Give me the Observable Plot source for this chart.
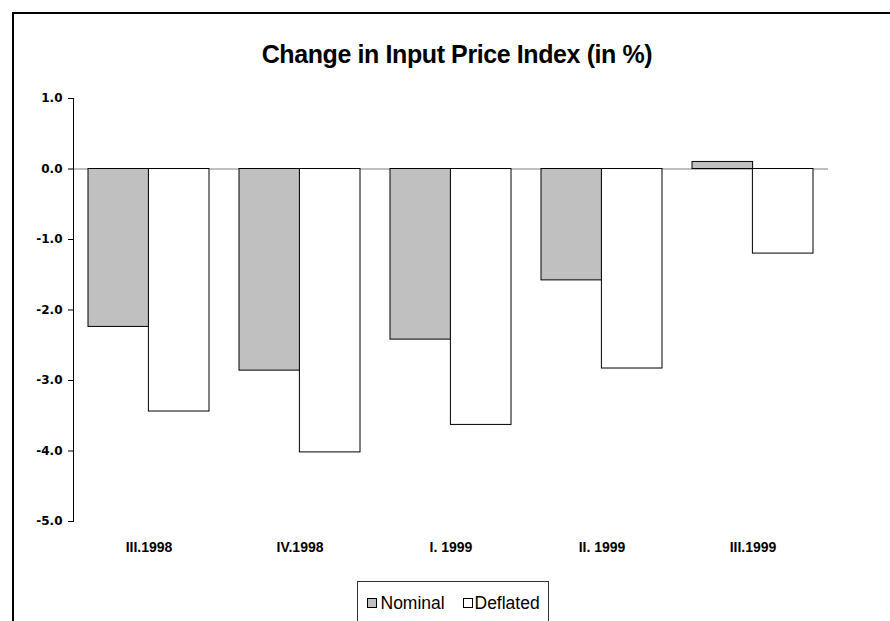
<!DOCTYPE html>
<html>
<head>
<meta charset="utf-8">
<script src="https://cdn.jsdelivr.net/npm/d3@7"></script>
<script src="https://cdn.jsdelivr.net/npm/@observablehq/plot@0.6"></script>
<style>
  html, body { margin: 0; padding: 0; background: #fff; }
  #wrap { position: relative; width: 890px; height: 621px; overflow: hidden; background: #fff; }
  #border { position: absolute; left: 12px; top: 12px; width: 2000px; height: 2000px;
            border-left: 2px solid #000; border-top: 2px solid #000; pointer-events: none; }
  #title { position: absolute; left: 0; top: 42px; width: 914px; text-align: center;
           font-family: "Liberation Sans", Arial, sans-serif; font-weight: bold; font-size: 25px;
           letter-spacing: -0.4px; line-height: 25px; color: #000; white-space: nowrap; }
  #chart { position: absolute; left: 0; top: 0; }
  #legend { position: absolute; left: 357px; top: 581px; width: 190px; height: 80px;
            border: 1px solid #333; background: #fff; }
  #legend .sw { position: absolute; top: 16px; width: 8px; height: 8px; border: 1px solid #000; }
  #legend .lb { position: absolute; top: 12.5px; font-family: "Liberation Sans", Arial, sans-serif;
                font-size: 17.5px; line-height: 17.5px; color: #000; white-space: nowrap; }
</style>
</head>
<body>
<div id="wrap">
  <div id="chart"></div>
  <div id="title"></div>
  <div id="legend"></div>
  <div id="border"></div>
</div>
<script>
// ---- data ----
const periods = ["III.1998", "IV.1998", "I. 1999", "II. 1999", "III.1999"];
const nominal = [-2.24, -2.86, -2.42, -1.58, 0.10];
const deflated = [-3.44, -4.02, -3.63, -2.83, -1.20];
const seriesNames = ["Nominal", "Deflated"];
const seriesColors = ["#c0c0c0", "#ffffff"];
const yTicks = [1, 0, -1, -2, -3, -4, -5];
const titleText = "Change in Input Price Index (in %)";

const rows = periods.map((p, i) => ({period: p, nominal: nominal[i], deflated: deflated[i]}));

// ---- layout ----
const W = 890, H = 621;
const mL = 73, mR = 62, mT = 98, mB = 100;
const padIn = 0.2, padOut = 0.1;
const step = (W - mL - mR) / (periods.length - padIn + 2 * padOut);
const halfBand = step * (1 - padIn) / 2;

const chart = Plot.plot({
  width: W,
  height: H,
  marginLeft: mL,
  marginRight: mR,
  marginTop: mT,
  marginBottom: mB,
  style: {background: "transparent", color: "#000"},
  x: {type: "band", domain: periods, paddingInner: padIn, paddingOuter: padOut, align: 0.5, label: null},
  y: {domain: [-5, 1], label: null},
  marks: [
    Plot.ruleY([0], {stroke: "#808080", strokeWidth: 1}),
    Plot.barY(rows, {x: "period", y: "nominal", fill: seriesColors[0], stroke: "#000", strokeWidth: 1, insetLeft: 0, insetRight: halfBand}),
    Plot.barY(rows, {x: "period", y: "deflated", fill: seriesColors[1], stroke: "#000", strokeWidth: 1, insetLeft: halfBand, insetRight: 0}),
    Plot.frame({anchor: "left", stroke: "#000", strokeWidth: 1}),
    Plot.axisY({
      ticks: yTicks, tickFormat: d => d.toFixed(1), tickSize: 5, tickPadding: 6,
      stroke: "#000", fontFamily: "DejaVu Sans", fontWeight: "bold", fontSize: 12, fill: "#000", label: null
    }),
    Plot.axisX({
      tickSize: 0, tickPadding: 21, fontFamily: "Liberation Sans", fontWeight: "bold",
      fontSize: 14, fill: "#000", label: null
    })
  ]
});
document.getElementById("chart").appendChild(chart);
document.getElementById("title").textContent = titleText;

// legend
const lg = document.getElementById("legend");
const swLeft = [9, 105];
const lbLeft = [22.5, 116.5];
seriesNames.forEach((name, i) => {
  const sw = document.createElement("div");
  sw.className = "sw";
  sw.style.left = swLeft[i] + "px";
  sw.style.background = seriesColors[i];
  lg.appendChild(sw);
  const lb = document.createElement("div");
  lb.className = "lb";
  lb.style.left = lbLeft[i] + "px";
  lb.textContent = name;
  lg.appendChild(lb);
});
</script>
</body>
</html>
